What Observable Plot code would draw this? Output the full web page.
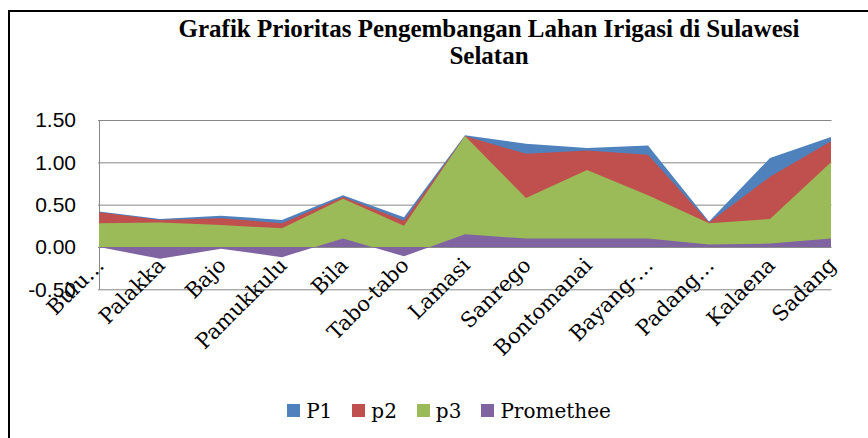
<!DOCTYPE html>
<html>
<head>
<meta charset="utf-8">
<script src="https://cdn.jsdelivr.net/npm/d3@7"></script>
<script src="https://cdn.jsdelivr.net/npm/@observablehq/plot@0.6"></script>
<style>
  html, body { margin: 0; padding: 0; background: #fff; }
  #wrap { position: relative; width: 868px; height: 438px; overflow: hidden; background: #fff; }
  #frame { position: absolute; left: 8px; top: 10px; width: 1000px; height: 1000px;
           border-left: 2px solid #000; border-top: 2px solid #000; box-sizing: border-box; }
  #title { position: absolute; left: 0; top: 0; width: 978px; height: 95px; box-sizing: border-box;
           padding-top: 14.8px; text-align: center; font-family: "Liberation Serif", serif;
           font-weight: bold; font-size: 25px; line-height: 27px; color: #000; }
  #chart { position: absolute; left: 0; top: 95px; }
  #legend { position: absolute; left: 0; top: 379px; width: 898px; height: 59px; box-sizing: border-box;
            padding-top: 5.4px; display: flex; justify-content: center; gap: 20px;
            font-family: "DejaVu Serif", serif; font-size: 20px; line-height: 24px; color: #000; }
  .item { display: flex; align-items: center; }
  .sw { width: 13px; height: 13px; margin-right: 6px; position: relative; top: -1px; }
</style>
</head>
<body>
<div id="wrap">
  <div id="frame"></div>
  <div id="title"></div>
  <div id="chart"></div>
  <div id="legend"></div>
</div>
<script>
const titleLines = ["Grafik Prioritas Pengembangan Lahan Irigasi di Sulawesi", "Selatan"];
const categories = ["Bulu…", "Palakka", "Bajo", "Pamukkulu", "Bila", "Tabo-tabo", "Lamasi",
                    "Sanrego", "Bontomanai", "Bayang-…", "Padang…", "Kalaena", "Sadang"];
const seriesNames = ["P1", "p2", "p3", "Promethee"];
const seriesColors = ["#4F81BD", "#C0504D", "#9BBB59", "#8064A2"];
const P1        = [0.42, 0.33, 0.37, 0.32, 0.61, 0.35, 1.32, 1.22, 1.17, 1.20, 0.30, 1.05, 1.30];
const p2        = [0.41, 0.32, 0.34, 0.28, 0.59, 0.31, 1.31, 1.10, 1.14, 1.09, 0.29, 0.83, 1.25];
const p3        = [0.28, 0.29, 0.26, 0.22, 0.57, 0.25, 1.31, 0.58, 0.91, 0.61, 0.28, 0.33, 1.00];
const promethee = [0.00, -0.14, -0.02, -0.12, 0.10, -0.11, 0.15, 0.10, 0.10, 0.10, 0.03, 0.04, 0.10];
const yTicks = [-0.5, 0, 0.5, 1.0, 1.5];

const seriesValues = [P1, p2, p3, promethee];

document.getElementById("title").innerHTML = titleLines.join("<br>");

const areas = seriesNames.map((name, s) =>
  Plot.areaY(categories.map((c, i) => ({cat: c, v: seriesValues[s][i]})),
    {x: "cat", y1: 0, y2: "v", fill: seriesColors[s]}));

const chart = Plot.plot({
  width: 868,
  height: 295,
  marginTop: 25,
  marginBottom: 100.7,
  marginLeft: 98,
  marginRight: 36.5,
  style: {background: "transparent", overflow: "visible"},
  x: {type: "point", domain: categories, padding: 0},
  y: {domain: [-0.5, 1.5]},
  marks: [
    Plot.ruleY(yTicks, {stroke: "#868686", strokeWidth: 1}),
    Plot.ruleX([categories[0]], {stroke: "#868686", strokeWidth: 1}),
    ...areas,
    Plot.axisY({ticks: yTicks, tickFormat: d => d.toFixed(2), tickSize: 0, tickPadding: 22.5,
                fontSize: 21, fontFamily: "Liberation Sans", label: null, fill: "#000"}),
    Plot.axisX({tickSize: 0, tickRotate: -45, tickPadding: 0, fontSize: 21,
                fontFamily: "DejaVu Serif", label: null, fill: "#000", dy: -28, dx: 1})
  ]
});
document.getElementById("chart").appendChild(chart);

const legend = document.getElementById("legend");
seriesNames.forEach((name, s) => {
  const item = document.createElement("div");
  item.className = "item";
  const sw = document.createElement("span");
  sw.className = "sw";
  sw.style.background = seriesColors[s];
  const label = document.createElement("span");
  label.textContent = name;
  item.appendChild(sw);
  item.appendChild(label);
  legend.appendChild(item);
});
</script>
</body>
</html>
